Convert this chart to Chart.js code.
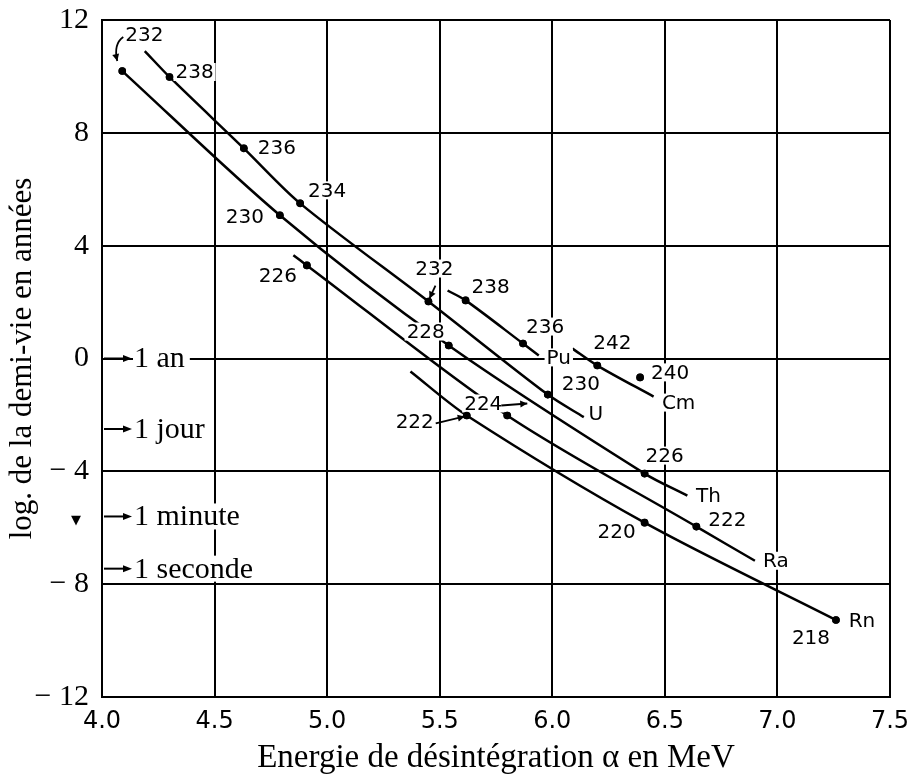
<!DOCTYPE html>
<html><head><meta charset="utf-8">
<script src="https://cdn.jsdelivr.net/npm/chart.js@4"></script>
<style>html,body{margin:0;padding:0;background:#fff}canvas{display:block}</style>
</head><body>
<canvas id="c" width="908" height="778"></canvas>
<script>
// ---- axes ----
const X_TICKS = [4.0, 4.5, 5.0, 5.5, 6.0, 6.5, 7.0, 7.5];
const X_TICK_LABELS = ['4.0', '4.5', '5.0', '5.5', '6.0', '6.5', '7.0', '7.5'];
const Y_TICKS = [12, 8, 4, 0, -4, -8, -12];
const Y_TICK_LABELS = ['12', '8', '4', '0', '\u2212 4', '\u2212 8', '\u2212 12'];

// ---- curves: alpha energy (MeV), log10 half-life (years), mass number (null = curve end) ----
const U_E  = [4.19, 4.30, 4.63, 4.88, 5.45, 5.98, 6.14];
const U_T  = [10.90, 9.98, 7.45, 5.50, 2.02, -1.28, -2.08];
const U_A  = [null, 238, 236, 234, 232, 230, null];

const TH_E = [4.09, 4.79, 5.54, 6.41, 6.60];
const TH_T = [10.19, 5.08, 0.46, -4.08, -4.86];
const TH_A = [232, 230, 228, 226, null];

const PU_E = [5.535, 5.615, 5.87, 5.94];
const PU_T = [2.41, 2.06, 0.53, 0.11];
const PU_A = [null, 238, 236, null];

const RA_E = [4.85, 4.91, 5.80, 6.64, 6.90];
const RA_T = [3.66, 3.30, -2.02, -5.96, -7.17];
const RA_A = [null, 226, 224, 222, null];

const RN_E = [5.37, 5.62, 6.41, 7.26];
const RN_T = [-0.46, -2.02, -5.82, -9.27];
const RN_A = [null, 222, 220, 218];

const CM_E = [6.09, 6.20, 6.45];
const CM_T = [0.35, -0.25, -1.35];
const CM_A = [null, 242, null];

const CM240_E = [6.39];
const CM240_T = [-0.67];
const CM240_A = [240];

// ---- time references on the left ----
const TIME_LABELS = ['1 an', '1 jour', '1 minute', '1 seconde'];
const TIME_LOG = [0, -2.5, -5.6, -7.45];

const SERIES = {
  U:  {E: U_E,  T: U_T,  A: U_A,  name: 'U',  line: true},
  TH: {E: TH_E, T: TH_T, A: TH_A, name: 'Th', line: true},
  PU: {E: PU_E, T: PU_T, A: PU_A, name: 'Pu', line: true},
  RA: {E: RA_E, T: RA_T, A: RA_A, name: 'Ra', line: true},
  RN: {E: RN_E, T: RN_T, A: RN_A, name: 'Rn', line: true},
  CM: {E: CM_E, T: CM_T, A: CM_A, name: 'Cm', line: true},
  CM240: {E: CM240_E, T: CM240_T, A: CM240_A, name: '', line: false}
};

// label placement: [series, index, dx, dy, kind]  (pixel offsets from the point)
const LABEL_POS = [
  ['TH',0, 22,-36,'mass'], ['U',1, 25,-5,'mass'], ['U',2, 33,-1,'mass'], ['U',3, 27,-13,'mass'],
  ['TH',1, -35,2,'mass'], ['RA',1, -29,10,'mass'], ['U',4, 6,-33,'mass'], ['PU',1, 25,-14,'mass'],
  ['PU',2, 22,-17,'mass'], ['PU',3, 20,2,'name'], ['TH',2, -23,-14,'mass'], ['U',5, 33,-11,'mass'],
  ['U',6, 12,-3,'name'], ['CM',1, 15,-23,'mass'], ['CM240',0, 30,-5,'mass'], ['CM',2, 25,6,'name'],
  ['RA',2, -24,-12,'mass'], ['RN',1, -52,6,'mass'], ['TH',3, 20,-18,'mass'], ['TH',4, 21,0,'name'],
  ['RA',3, 31,-7,'mass'], ['RN',2, -28,9,'mass'], ['RA',4, 21,0,'name'], ['RN',3, 26,1,'name'],
  ['RN',3, -25,18,'mass']
];
// arrows: [series, index, fromDx, fromDy, toDx, toDy, ctrlDx, ctrlDy]
const ARROWS = [
  ['TH',0, 1,-34, -5,-10, -9,-27],
  ['U',4, 7,-16, 1,-3],
  ['RA',2, -6,-10, 20,-12],
  ['RN',1, -31,8, -2,1]
];

const datasets = Object.keys(SERIES).map(k => {
  const s = SERIES[k];
  return {
    label: k,
    data: s.E.map((e, i) => ({x: e, y: s.T[i]})),
    showLine: s.line,
    borderColor: '#000',
    borderWidth: 2.5,
    backgroundColor: '#000',
    pointRadius: s.A.map(a => a == null ? 0 : 3.8),
    pointHoverRadius: 0,
    pointBackgroundColor: '#000',
    pointBorderWidth: 0,
    tension: 0.3,
    fill: false
  };
});

function arrowHead(ctx, x1, y1, x2, y2, L, W) {
  const a = Math.atan2(y2 - y1, x2 - x1);
  ctx.beginPath();
  ctx.moveTo(x2, y2);
  ctx.lineTo(x2 - L * Math.cos(a) + W * Math.sin(a), y2 - L * Math.sin(a) - W * Math.cos(a));
  ctx.lineTo(x2 - L * Math.cos(a) - W * Math.sin(a), y2 - L * Math.sin(a) + W * Math.cos(a));
  ctx.closePath();
  ctx.fill();
}

const annot = {
  id: 'annot',
  afterDatasetsDraw(chart) {
    const ctx = chart.ctx, xs = chart.scales.x, ys = chart.scales.y, ca = chart.chartArea;
    const P = (k, i) => [xs.getPixelForValue(SERIES[k].E[i]), ys.getPixelForValue(SERIES[k].T[i])];
    ctx.save();
    ctx.font = '20px "DejaVu Sans"';
    ctx.textAlign = 'center';
    ctx.textBaseline = 'middle';
    for (const [k, i, dx, dy, kind] of LABEL_POS) {
      const [x0, y0] = P(k, i);
      const x = x0 + dx, y = y0 + dy;
      const text = kind === 'name' ? SERIES[k].name : String(SERIES[k].A[i]);
      const w = ctx.measureText(text).width;
      ctx.fillStyle = '#fff';
      ctx.fillRect(x - w / 2 - 2, y - 9, w + 4, 18);
      ctx.fillStyle = '#000';
      ctx.fillText(text, x, y + 1);
    }
    // redraw point markers on top
    chart.data.datasets.forEach((d, di) => {
      const meta = chart.getDatasetMeta(di);
      meta.data.forEach(el => { if (el.options.radius > 0) el.draw(ctx, ca); });
    });
    // arrows
    ctx.strokeStyle = '#000';
    ctx.fillStyle = '#000';
    ctx.lineWidth = 1.8;
    for (const a of ARROWS) {
      const [k, i, fx, fy, tx, ty, cx, cy] = a;
      const [x0, y0] = P(k, i);
      ctx.beginPath();
      ctx.moveTo(x0 + fx, y0 + fy);
      if (cx !== undefined) {
        ctx.quadraticCurveTo(x0 + cx, y0 + cy, x0 + tx, y0 + ty);
        ctx.stroke();
        arrowHead(ctx, x0 + cx, y0 + cy, x0 + tx, y0 + ty, 7, 3.5);
      } else {
        ctx.lineTo(x0 + tx, y0 + ty);
        ctx.stroke();
        arrowHead(ctx, x0 + fx, y0 + fy, x0 + tx, y0 + ty, 7, 3.5);
      }
    }
    // time references
    ctx.font = '30px "Liberation Serif"';
    ctx.textAlign = 'left';
    TIME_LABELS.forEach((t, i) => {
      const y = ys.getPixelForValue(TIME_LOG[i]);
      const w = ctx.measureText(t).width;
      const tx = ca.left + 32;
      ctx.fillStyle = '#fff';
      ctx.fillRect(tx - 1, y - 13, w + 6, 26);
      ctx.fillStyle = '#000';
      ctx.fillText(t, tx, y + 1);
      ctx.lineWidth = 2;
      ctx.beginPath();
      ctx.moveTo(ca.left + 2, y);
      ctx.lineTo(ca.left + 24, y);
      ctx.stroke();
      arrowHead(ctx, ca.left + 2, y, ca.left + 30, y, 9, 3.5);
    });
    // small stray mark next to the axis
    ctx.font = '13px "DejaVu Sans"';
    ctx.textAlign = 'center';
    ctx.fillText('\u25BC', ca.left - 26, ys.getPixelForValue(TIME_LOG[2]) + 4);
    ctx.restore();
  }
};

new Chart(document.getElementById('c'), {
  type: 'scatter',
  data: {datasets},
  options: {
    responsive: false,
    animation: false,
    events: [],
    layout: {padding: {left: 0, right: 18, top: 20, bottom: 0}},
    plugins: {legend: {display: false}, tooltip: {enabled: false}},
    scales: {
      x: {
        type: 'linear', min: 4, max: 7.5,
        afterBuildTicks: s => { s.ticks = X_TICKS.map(v => ({value: v})); },
        afterFit: s => { s.height = 81; s.paddingLeft = 0; s.paddingRight = 0; },
        grid: {color: '#000', lineWidth: 2, drawTicks: false},
        border: {color: '#000', width: 2},
        ticks: {
          autoSkip: false, maxRotation: 0, padding: 10, color: '#000',
          font: {family: 'DejaVu Sans', size: 24},
          callback: v => { const i = X_TICKS.findIndex(t => Math.abs(t - v) < 1e-6); return i < 0 ? '' : X_TICK_LABELS[i]; }
        },
        title: {display: true, text: 'Energie de d\u00e9sint\u00e9gration \u03b1 en MeV', color: '#000',
          font: {family: 'Liberation Serif', size: 33, lineHeight: 1}, padding: {top: 0, bottom: 3}}
      },
      y: {
        type: 'linear', min: -12, max: 12,
        afterBuildTicks: s => { s.ticks = Y_TICKS.map(v => ({value: v})); },
        afterFit: s => { s.width = 102; s.paddingTop = 0; s.paddingBottom = 0; },
        grid: {color: '#000', lineWidth: 2, drawTicks: false},
        border: {color: '#000', width: 2},
        ticks: {
          autoSkip: false, padding: 13, color: '#000',
          font: {family: 'Liberation Serif', size: 30},
          callback: v => { const i = Y_TICKS.findIndex(t => Math.abs(t - v) < 1e-6); return i < 0 ? '' : Y_TICK_LABELS[i]; }
        },
        title: {display: true, text: 'log. de la demi-vie en ann\u00e9es', color: '#000',
          font: {family: 'Liberation Serif', size: 31, lineHeight: 1}, padding: {top: 7, bottom: 0}}
      }
    }
  },
  plugins: [annot]
});
</script>
</body></html>
